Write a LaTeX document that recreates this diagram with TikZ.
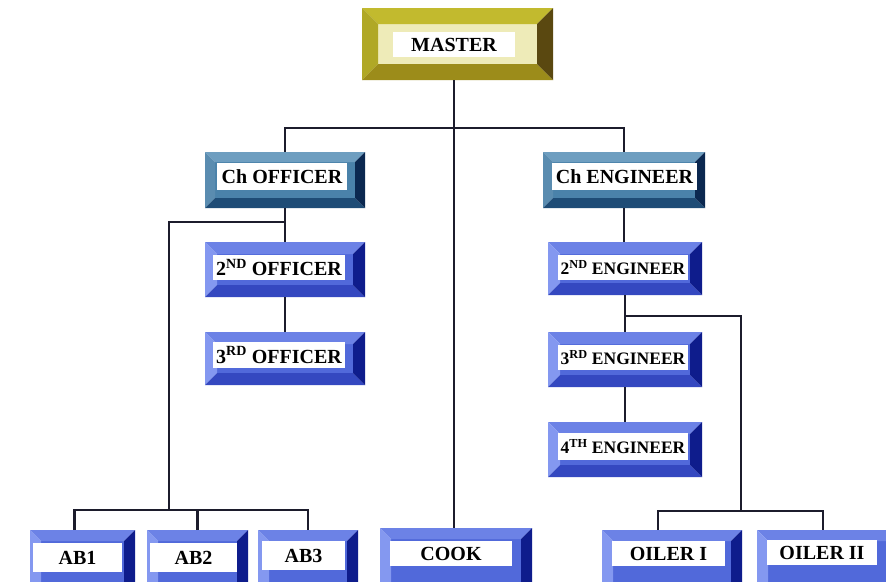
\documentclass[tikz,border=0pt]{standalone}
\usepackage{fontspec}
\setmainfont{Liberation Serif}
\usetikzlibrary{fit}
% yellow (master)
\definecolor{Ytop}{HTML}{C2BA2E}\definecolor{Yleft}{HTML}{B0A826}\definecolor{Yright}{HTML}{5A4810}
\definecolor{Ybot}{HTML}{9C8C1A}\definecolor{Yface}{HTML}{EEEBB8}
% teal (chiefs)
\definecolor{Ttop}{HTML}{6E9EC0}\definecolor{Tleft}{HTML}{5A8CB0}\definecolor{Tright}{HTML}{0B2850}
\definecolor{Tbot}{HTML}{1E4C76}\definecolor{Tface}{HTML}{4A82AA}
% blue (others)
\definecolor{Btop}{HTML}{6C82E6}\definecolor{Bleft}{HTML}{8498F0}\definecolor{Bright}{HTML}{0E1C8C}
\definecolor{Bbot}{HTML}{3448C0}\definecolor{Bface}{HTML}{5169DA}
\definecolor{linec}{HTML}{1C1C2C}
% #1 name, #2 x1, #3 y1, #4 x2, #5 y2, #6 colour scheme, #7 bevel
\newcommand\bvbox[7]{%
  \fill[#6face] ({#2+#7},{#3+#7}) rectangle ({#4-#7},{#5-#7});
  \fill[#6top] (#2,#3) -- (#4,#3) -- ({#4-#7},{#3+#7}) -- ({#2+#7},{#3+#7}) -- cycle;
  \fill[#6left] (#2,#3) -- ({#2+#7},{#3+#7}) -- ({#2+#7},{#5-#7}) -- (#2,#5) -- cycle;
  \fill[#6bot] (#2,#5) -- (#4,#5) -- ({#4-#7},{#5-#7}) -- ({#2+#7},{#5-#7}) -- cycle;
  \fill[#6right] (#4,#3) -- (#4,#5) -- ({#4-#7},{#5-#7}) -- ({#4-#7},{#3+#7}) -- cycle;
  \node[inner sep=0pt, fit={(#2,#3) (#4,#5)}] (#1) {};
}
\tikzset{
  conn/.style={draw=linec, line width=2.3pt},
  lbl/.style={fill=white, inner sep=0pt, text=black,
    font=\fontsize{20}{22}\selectfont\bfseries},
  lbls/.style={lbl, font=\fontsize{17.5}{20}\selectfont\bfseries},
}
\begin{document}
\begin{tikzpicture}[x=1pt,y=-1pt]
\clip (0,0) rectangle (886,581);
\fill[white] (0,0) rectangle (886,581);
% boxes
\bvbox{master}{362}{8}{553}{80}{Y}{16}
\bvbox{cho}{205}{152}{365}{208}{T}{10}
\bvbox{che}{543}{152}{705}{208}{T}{10}
\bvbox{o2}{205}{242}{365}{297}{B}{12}
\bvbox{o3}{205}{332}{365}{385}{B}{12}
\bvbox{e2}{548}{242}{702}{295}{B}{12}
\bvbox{e3}{548}{332}{702}{387}{B}{12}
\bvbox{e4}{548}{422}{702}{477}{B}{12}
\bvbox{ab1}{30}{530}{135}{600}{B}{11}
\bvbox{ab2}{147}{530}{248}{600}{B}{11}
\bvbox{ab3}{258}{530}{358}{600}{B}{11}
\bvbox{cook}{380}{528}{532}{600}{B}{11}
\bvbox{oil1}{602}{530}{742}{600}{B}{11}
\bvbox{oil2}{757}{530}{897}{600}{B}{11}
% labels
\node[lbl, minimum width=122, minimum height=25] (masterl) at (454,44.5) {MASTER};
\node[lbl, minimum width=130, minimum height=27] (chol) at (282,176.5) {Ch OFFICER};
\node[lbl, minimum width=145, minimum height=27] (chel) at (624.5,176.5) {Ch ENGINEER};
\node[lbl, minimum width=132, minimum height=25] (o2l) at (279,267.5) {2\textsuperscript{ND} OFFICER};
\node[lbl, minimum width=132, minimum height=26] (o3l) at (279,355) {3\textsuperscript{RD} OFFICER};
\node[lbls, minimum width=130, minimum height=25] (e2l) at (623,267.5) {2\textsuperscript{ND} ENGINEER};
\node[lbls, minimum width=130, minimum height=25] (e3l) at (623,357.5) {3\textsuperscript{RD} ENGINEER};
\node[lbls, minimum width=130, minimum height=27] (e4l) at (623,446.5) {4\textsuperscript{TH} ENGINEER};
\node[lbl, minimum width=89, minimum height=29] (ab1l) at (77.5,557.5) {AB1};
\node[lbl, minimum width=87, minimum height=29] (ab2l) at (193.5,557.5) {AB2};
\node[lbl, minimum width=83, minimum height=29] (ab3l) at (303.5,555.5) {AB3};
\node[lbl, minimum width=122, minimum height=25] (cookl) at (451,553.5) {COOK};
\node[lbl, minimum width=113, minimum height=25] (oil1l) at (668.5,553.5) {OILER I};
\node[lbl, minimum width=110, minimum height=25] (oil2l) at (822,552.5) {OILER II};
% connectors
\coordinate (bus1) at (454,128);
\coordinate (abtop) at (169,222);
\coordinate (abbus) at (169,510);
\coordinate (oilbus) at (741,511);
\draw[conn] (bus1 |- master.south) -- (bus1 |- cook.north);
\draw[conn] (cho.north) |- (bus1) -| (che.north);
\draw[conn] (cho.south) -- (o2.north);
\draw[conn] (o2.south) -- (o3.north);
\draw[conn] (cho.south |- abtop) -- (abtop) -- (abbus);
\draw[conn] ([xshift=-8pt]ab1.north) |- (abbus) -| (ab3.north);
\draw[conn] (ab2.north) -- (ab2.north |- abbus);
\draw[conn] (che.south) -- (che.south |- e2.north);
\draw[conn] (e2.south) -- (e3.north);
\draw[conn] (e3.south) -- (e4.north);
\draw[conn] (e2.south |- 0,316) -| (oilbus);
\draw[conn] ([xshift=-14pt]oil1.north) |- (oilbus) -| ([xshift=-4pt]oil2.north);
\end{tikzpicture}
\end{document}
